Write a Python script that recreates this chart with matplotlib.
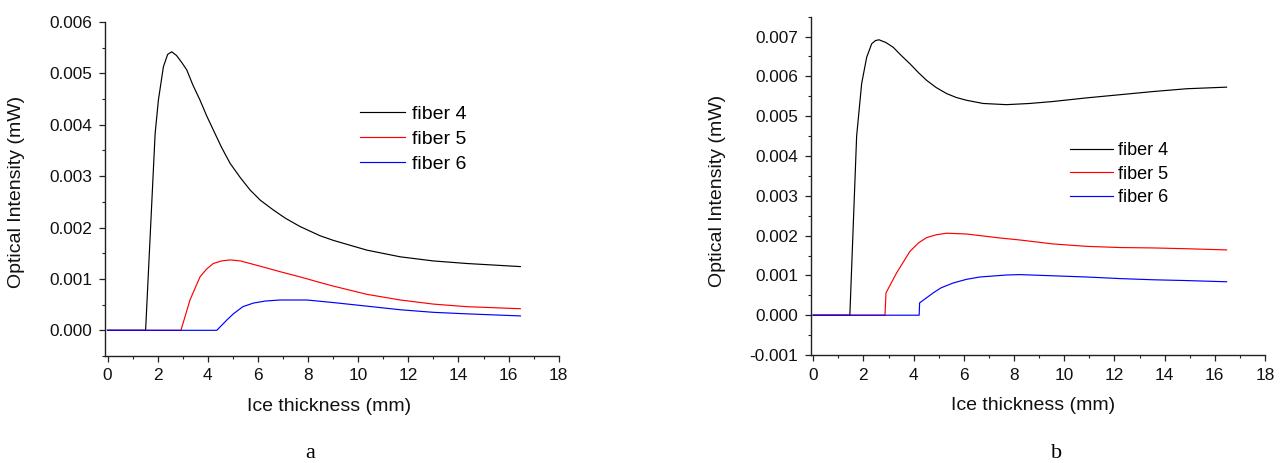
import matplotlib
matplotlib.use("Agg")
import matplotlib.pyplot as plt
from matplotlib.ticker import MultipleLocator, FormatStrFormatter

plt.rcParams["font.family"] = ["Liberation Sans", "DejaVu Sans"]

# ---- panel a: optical intensity vs ice thickness ----
a_f4_x = [0, 1.52, 1.90, 2.03, 2.23, 2.40, 2.56, 2.75, 2.95, 3.16, 3.40, 3.69,
          3.95, 4.22, 4.55, 4.89, 5.30, 5.69, 6.10, 6.62, 7.10, 7.68, 8.48,
          9.01, 10.35, 11.68, 13.0, 14.34, 16.47]
a_f4_y = [0, 0, 0.00383, 0.00448, 0.00513, 0.00537, 0.00542, 0.00535, 0.00522,
          0.00507, 0.00478, 0.00448, 0.00418, 0.00390, 0.00356, 0.00325, 0.00297,
          0.00273, 0.00253, 0.00234, 0.00218, 0.00202, 0.00184, 0.00175, 0.00156,
          0.00143, 0.00135, 0.00130, 0.00124]

a_f5_x = [0, 2.93, 3.29, 3.69, 3.95, 4.22, 4.55, 4.89, 5.30, 5.69, 6.30, 6.89,
          7.68, 8.48, 9.01, 10.35, 11.68, 13.0, 14.34, 16.47]
a_f5_y = [0, 0, 0.00059, 0.00104, 0.00119, 0.00130, 0.00135, 0.00137, 0.00135,
          0.00130, 0.00122, 0.00114, 0.00104, 0.00093, 0.00086, 0.00070, 0.00059,
          0.00051, 0.00046, 0.00042]

a_f6_x = [0, 4.36, 4.50, 4.76, 5.02, 5.40, 5.82, 6.30, 6.89, 7.95, 9.01, 10.35,
          11.68, 13.0, 14.34, 16.47]
a_f6_y = [0, 0, 0.00007, 0.00020, 0.00032, 0.00046, 0.00053, 0.00057, 0.00059,
          0.00059, 0.00054, 0.00047, 0.00040, 0.00035, 0.00032, 0.00028]

# ---- panel b ----
b_f4_x = [0, 1.46, 1.73, 1.93, 2.13, 2.33, 2.48, 2.62, 2.90, 3.19, 3.50, 3.85,
          4.20, 4.52, 4.90, 5.31, 5.70, 6.11, 6.77, 7.70, 8.63, 9.56, 10.89,
          12.22, 13.55, 14.88, 16.47]
b_f4_y = [0, 0, 0.00450, 0.00582, 0.00648, 0.00682, 0.00690, 0.00692, 0.00685,
          0.00673, 0.00653, 0.00632, 0.00609, 0.00590, 0.00572, 0.00557, 0.00547,
          0.00540, 0.00532, 0.00529, 0.00532, 0.00537, 0.00546, 0.00554, 0.00562,
          0.00569, 0.00573]

b_f5_x = [0, 2.86, 2.90, 3.32, 3.85, 4.20, 4.52, 4.90, 5.31, 6.11, 7.44, 8.23,
          9.56, 10.89, 12.22, 13.55, 14.88, 16.47]
b_f5_y = [0, 0, 0.00056, 0.00106, 0.00160, 0.00182, 0.00195, 0.00202, 0.00206,
          0.00204, 0.00194, 0.00189, 0.00179, 0.00173, 0.00170, 0.00169, 0.00167,
          0.00164]

b_f6_x = [0, 4.22, 4.24, 4.78, 5.10, 5.58, 6.10, 6.64, 7.70, 8.23, 10.89, 12.22,
          13.55, 14.88, 16.47]
b_f6_y = [0, 0, 0.00031, 0.00056, 0.00069, 0.00081, 0.00090, 0.00096, 0.00101,
          0.00102, 0.00096, 0.00092, 0.00089, 0.00087, 0.00084]

labels = ["fiber 4", "fiber 5", "fiber 6"]
colors = ["black", "#ff0000", "#0000ff"]

W, H = 1283, 463
fig = plt.figure(figsize=(W / 100, H / 100), dpi=100)


def px_axes(left, top, right, bottom):
    return fig.add_axes([left / W, 1 - bottom / H, (right - left) / W, (bottom - top) / H])


def style(ax, ylim, xlab_pos, ylab_pos):
    ax.set_xlim(-0.1, 18)
    ax.set_ylim(*ylim)
    ax.xaxis.set_major_locator(MultipleLocator(2))
    ax.xaxis.set_minor_locator(MultipleLocator(1))
    ax.yaxis.set_major_locator(MultipleLocator(0.001))
    ax.yaxis.set_minor_locator(MultipleLocator(0.0005))
    ax.yaxis.set_major_formatter(FormatStrFormatter("%.3f"))
    for s in ("top", "right"):
        ax.spines[s].set_visible(False)
    for s in ("left", "bottom"):
        ax.spines[s].set_linewidth(1.0)
        ax.spines[s].set_color("#222222")
    ax.tick_params(which="major", direction="out", length=4, width=0.9,
                   color="#222222", labelsize=12.4, pad=5, labelcolor="#111111")
    ax.tick_params(which="minor", direction="out", length=2.5, width=0.8,
                   color="#222222")
    ax.set_xlabel("Ice thickness (mm)", fontsize=14, va="center", color="#111111")
    ax.set_ylabel("Optical Intensity (mW)", fontsize=14, va="center", ha="center",
                  color="#111111")
    ax.xaxis.set_label_coords(*xlab_pos)
    ax.yaxis.set_label_coords(*ylab_pos)


# panel a
ax1 = px_axes(105, 22, 558.7, 356)
for xs, ys, lab, c in zip([a_f4_x, a_f5_x, a_f6_x], [a_f4_y, a_f5_y, a_f6_y], labels, colors):
    ax1.plot(xs, ys, color=c, lw=0.85, label=lab)
style(ax1, (-0.0005, 0.006), (0.494, -0.152), (-0.194, 0.492))
ax1.legend(loc="center left", bbox_to_anchor=(0.562, 0.650), frameon=False,
           fontsize=14, handlelength=2.32, handletextpad=0.35, labelspacing=0.38,
           borderpad=0, borderaxespad=0)

# panel b
ax2 = px_axes(810.7, 16.7, 1265, 355)
for xs, ys, lab, c in zip([b_f4_x, b_f5_x, b_f6_x], [b_f4_y, b_f5_y, b_f6_y], labels, colors):
    ax2.plot(xs, ys, color=c, lw=0.85, label=lab)
style(ax2, (-0.001, 0.0075), (0.49, -0.148), (-0.206, 0.485))
ax2.legend(loc="center left", bbox_to_anchor=(0.571, 0.535), frameon=False,
           fontsize=13, handlelength=2.35, handletextpad=0.33, labelspacing=0.37,
           borderpad=0, borderaxespad=0)

# panel captions
fig.text(310 / W, 1 - 453 / H, "a", family="Liberation Serif", fontsize=16,
         ha="center", va="center")
fig.text(1057 / W, 1 - 453 / H, "b", family="Liberation Serif", fontsize=16,
         ha="center", va="center")

fig.savefig("out.png", dpi=100)
